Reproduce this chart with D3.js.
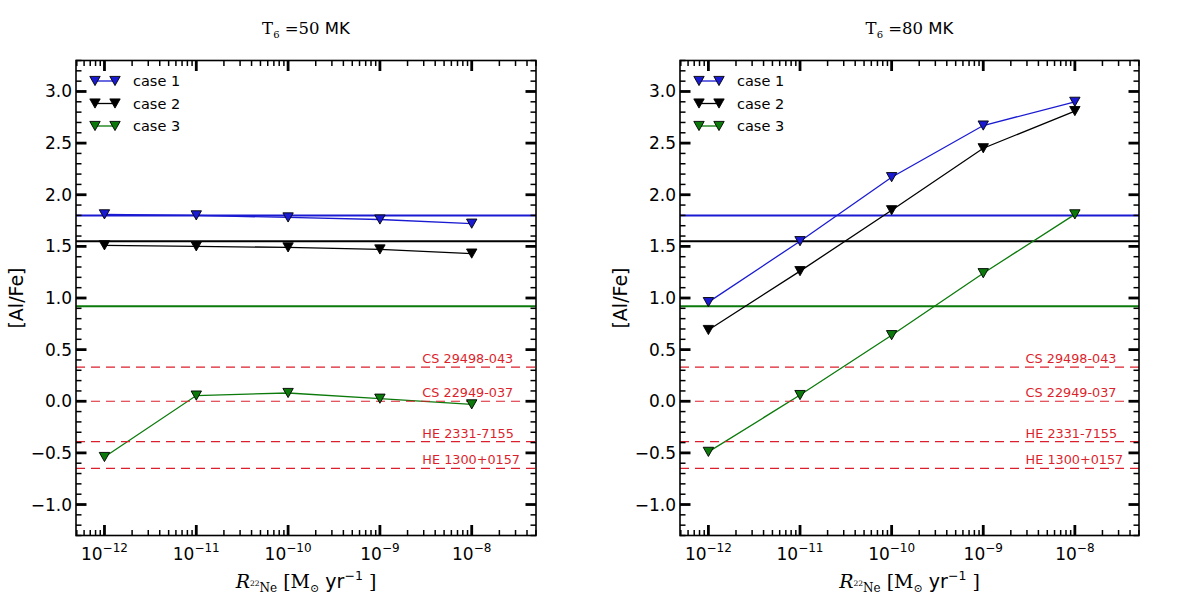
<!DOCTYPE html>
<html>
<head>
<meta charset="utf-8">
<script src="https://cdn.jsdelivr.net/npm/d3@7"></script>
<style>
  html, body { margin: 0; padding: 0; background: #fff; }
  svg { display: block; }
</style>
</head>
<body>
<svg id="chart" width="1200" height="598"></svg>
<script>
// ---------------- DATA ----------------
const rates = [1e-12, 1e-11, 1e-10, 1e-9, 1e-8];
const caseNames = ["case 1", "case 2", "case 3"];
const panelTitles = ["50", "80"];

// T6 = 50 MK
const t50_case1 = [1.81, 1.80, 1.78, 1.76, 1.72];
const t50_case2 = [1.51, 1.50, 1.49, 1.47, 1.43];
const t50_case3 = [-0.54, 0.055, 0.08, 0.025, -0.03];

// T6 = 80 MK
const t80_case1 = [0.96, 1.55, 2.17, 2.67, 2.90];
const t80_case2 = [0.69, 1.26, 1.85, 2.45, 2.81];
const t80_case3 = [-0.49, 0.06, 0.64, 1.24, 1.81];

// horizontal reference levels for each case
const caseLevels = [1.80, 1.55, 0.92];

// observed stars
const starNames = ["CS 29498-043", "CS 22949-037", "HE 2331-7155", "HE 1300+0157"];
const starValues = [0.33, 0.0, -0.39, -0.65];

const yTicks = [-1.0, -0.5, 0.0, 0.5, 1.0, 1.5, 2.0, 2.5, 3.0];
const xTickExps = [-12, -11, -10, -9, -8];

// ---------------- STYLE ----------------
const colors = ["#1a1ad2", "#000000", "#0b7a0b"];
const red = "#dc1f2c";
const sans = "'DejaVu Sans', Verdana, sans-serif";
const serif = "'DejaVu Serif', 'Liberation Serif', serif";

const svg = d3.select("#chart");

const panels = [
  { x0: 76, x1: 536, title: panelTitles[0], series: [t50_case1, t50_case2, t50_case3] },
  { x0: 680, x1: 1139, title: panelTitles[1], series: [t80_case1, t80_case2, t80_case3] }
];
const plotTop = 60.5, plotBottom = 535.5;

function triPath() {
  const w = 5.2, h = 4.6;
  return `M${-w},${-h}L${w},${-h}L0,${h}Z`;
}

panels.forEach(p => {
  const x = d3.scaleLog().domain([Math.pow(10, -12.31), Math.pow(10, -7.3)]).range([p.x0, p.x1]);
  const y = d3.scaleLinear().domain([-1.3, 3.3]).range([plotBottom, plotTop]);
  const g = svg.append("g");

  // horizontal case levels
  caseLevels.forEach((v, i) => {
    g.append("line")
      .attr("x1", p.x0).attr("x2", p.x1)
      .attr("y1", y(v)).attr("y2", y(v))
      .attr("stroke", colors[i]).attr("stroke-width", 2);
  });

  // data lines
  const line = d3.line().x((d, i) => x(rates[i])).y(d => y(d));
  p.series.forEach((s, i) => {
    g.append("path").datum(s)
      .attr("d", line)
      .attr("fill", "none")
      .attr("stroke", colors[i])
      .attr("stroke-width", 1.3);
  });

  // red dashed star lines + labels
  starValues.forEach((v, i) => {
    g.append("line")
      .attr("x1", p.x0).attr("x2", p.x1)
      .attr("y1", y(v)).attr("y2", y(v))
      .attr("stroke", red).attr("stroke-width", 1.2)
      .attr("stroke-dasharray", "9,6");
    g.append("text")
      .attr("x", x(2.9e-9)).attr("y", y(v) - 4)
      .attr("font-family", sans).attr("font-size", 12.8)
      .attr("fill", red)
      .text(starNames[i]);
  });

  // markers
  p.series.forEach((s, i) => {
    g.selectAll(null).data(s).enter().append("path")
      .attr("d", triPath())
      .attr("transform", (d, j) => `translate(${x(rates[j])},${y(d)})`)
      .attr("fill", colors[i])
      .attr("stroke", "#000").attr("stroke-width", 0.9);
  });

  // frame
  g.append("rect")
    .attr("x", p.x0).attr("y", plotTop)
    .attr("width", p.x1 - p.x0).attr("height", plotBottom - plotTop)
    .attr("fill", "none").attr("stroke", "#000").attr("stroke-width", 1.6);

  // y ticks (major & minor, on both sides, pointing inward)
  const yMinor = d3.range(-13, 34).map(k => k / 10).filter(v => v >= -1.3 && v <= 3.3);
  yMinor.forEach(v => {
    const isMajor = Math.abs(v * 2 - Math.round(v * 2)) < 1e-6;
    const len = isMajor ? 10.5 : 5.5;
    const sw = isMajor ? 2.8 : 1.5;
    g.append("line").attr("x1", p.x0).attr("x2", p.x0 + len)
      .attr("y1", y(v)).attr("y2", y(v)).attr("stroke", "#000").attr("stroke-width", sw);
    g.append("line").attr("x1", p.x1).attr("x2", p.x1 - len)
      .attr("y1", y(v)).attr("y2", y(v)).attr("stroke", "#000").attr("stroke-width", sw);
  });
  yTicks.forEach(v => {
    g.append("text")
      .attr("x", p.x0 - 4).attr("y", y(v) + 6)
      .attr("text-anchor", "end")
      .attr("font-family", sans).attr("font-size", 17)
      .text(d3.format(".1f")(v).replace("-", "\u2212"));
  });

  // x ticks
  const [lo, hi] = x.domain();
  for (let e = -13; e <= -7; e++) {
    for (let k = 1; k <= 9; k++) {
      const v = k * Math.pow(10, e);
      if (v < lo || v > hi) continue;
      const isMajor = k === 1;
      const len = isMajor ? 10.5 : 5.5;
      const sw = isMajor ? 2.8 : 1.5;
      g.append("line").attr("x1", x(v)).attr("x2", x(v))
        .attr("y1", plotBottom).attr("y2", plotBottom - len).attr("stroke", "#000").attr("stroke-width", sw);
      g.append("line").attr("x1", x(v)).attr("x2", x(v))
        .attr("y1", plotTop).attr("y2", plotTop + len).attr("stroke", "#000").attr("stroke-width", sw);
    }
  }
  xTickExps.forEach(e => {
    const t = g.append("text")
      .attr("x", x(Math.pow(10, e))).attr("y", 560)
      .attr("text-anchor", "middle")
      .attr("font-family", sans).attr("font-size", 17);
    t.append("tspan").text("10");
    t.append("tspan").attr("dy", -8).attr("font-size", 12).text("\u2212" + Math.abs(e));
  });

  // title
  const cx = (p.x0 + p.x1) / 2;
  const title = g.append("text").attr("x", cx).attr("y", 34)
    .attr("text-anchor", "middle").attr("font-size", 16.5);
  title.append("tspan").attr("font-family", serif).text("T");
  title.append("tspan").attr("font-family", serif).attr("font-size", 10).attr("dy", 4).text("6");
  title.append("tspan").attr("font-family", serif).attr("dy", -4).text(" =" + p.title);
  title.append("tspan").attr("font-family", sans).text(" MK");

  // y label
  g.append("text")
    .attr("transform", `translate(${p.x0 - 53},${(plotTop + plotBottom) / 2}) rotate(-90)`)
    .attr("text-anchor", "middle")
    .attr("font-family", sans).attr("font-size", 19)
    .text("[Al/Fe]");

  // x label
  const xl = g.append("text").attr("x", cx).attr("y", 588)
    .attr("text-anchor", "middle").attr("font-size", 19);
  xl.append("tspan").attr("font-family", serif).attr("font-style", "italic").text("R");
  xl.append("tspan").attr("font-family", serif).attr("font-size", 7.5).attr("dy", -2).text("22");
  xl.append("tspan").attr("font-family", serif).attr("font-size", 12).attr("dy", 6).text("Ne");
  xl.append("tspan").attr("font-family", serif).attr("dy", -4).text(" [M");
  xl.append("tspan").attr("font-family", serif).attr("font-size", 11).attr("dy", 4).text("\u2299");
  xl.append("tspan").attr("font-family", sans).attr("dy", -4).text(" yr");
  xl.append("tspan").attr("font-family", sans).attr("font-size", 12.5).attr("dy", -8).text("\u22121");
  xl.append("tspan").attr("font-family", serif).attr("dy", 8).text(" ]");

  // legend
  caseNames.forEach((name, i) => {
    const ly = 81 + i * 22.5;
    const lx0 = p.x0 + 19, lx1 = p.x0 + 39;
    g.append("line").attr("x1", lx0).attr("x2", lx1).attr("y1", ly).attr("y2", ly)
      .attr("stroke", colors[i]).attr("stroke-width", 1.3);
    [lx0, lx1].forEach(mx => {
      g.append("path").attr("d", triPath())
        .attr("transform", `translate(${mx},${ly})`)
        .attr("fill", colors[i]).attr("stroke", "#000").attr("stroke-width", 0.9);
    });
    g.append("text").attr("x", p.x0 + 57).attr("y", ly + 5)
      .attr("font-family", sans).attr("font-size", 14.5)
      .text(name);
  });
});
</script>
</body>
</html>
